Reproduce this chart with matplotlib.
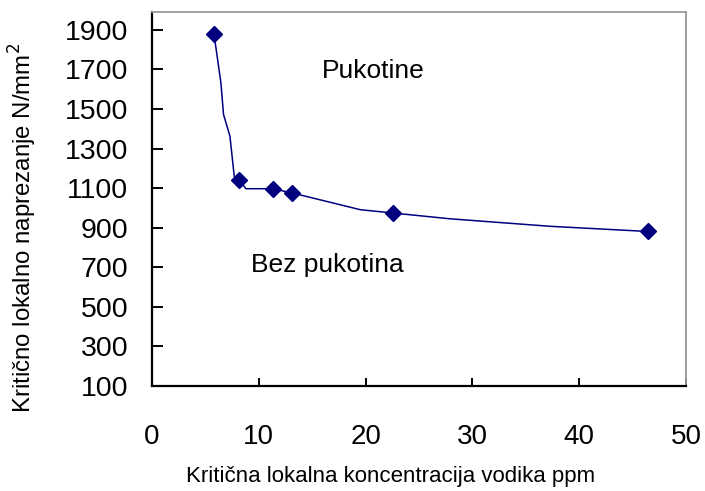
#!/usr/bin/env python3
"""Critical local stress vs. critical local hydrogen concentration."""

import matplotlib
matplotlib.use('Agg')
import matplotlib.pyplot as plt

# measured points (markers)
conc_ppm = [5.8, 8.1, 11.3, 13.1, 22.6, 46.4]
stress = [1880, 1143, 1097, 1076, 974, 881]

# hand-drawn boundary curve vertices
curve_x = [5.8, 6.45, 6.7, 7.3, 7.7, 8.1, 8.8, 11.3, 13.1, 19.5, 22.6, 27.9, 37.3, 46.4]
curve_y = [1880, 1633, 1472, 1362, 1160, 1143, 1097, 1097, 1076, 991, 974, 945, 907, 881]

x_ticks = [0, 10, 20, 30, 40, 50]
y_ticks = [100, 300, 500, 700, 900, 1100, 1300, 1500, 1700, 1900]

NAVY = '#00007f'

plt.rcParams['font.family'] = ['Liberation Sans', 'DejaVu Sans']

fig = plt.figure(figsize=(7.05, 4.91), dpi=100)
ax = fig.add_axes([0.2156, 0.2138, 0.7574, 0.7618])

ax.plot(curve_x, curve_y, color=NAVY, linewidth=1.1, zorder=2)
ax.plot(conc_ppm, stress, linestyle='none', marker='D', markersize=8.5,
        color=NAVY, zorder=3)

ax.set_xlim(0, 50)
ax.set_ylim(100, 1990)
ax.set_xticks(x_ticks)
ax.set_yticks(y_ticks)

ax.tick_params(axis='y', direction='in', length=8, width=1.4, pad=17, labelsize=20.5)
ax.tick_params(axis='x', direction='in', length=6, width=1.4, pad=27, labelsize=20)

for side in ('left', 'bottom'):
    ax.spines[side].set_linewidth(1.6)
    ax.spines[side].set_color('black')
for side in ('top', 'right'):
    ax.spines[side].set_linewidth(1.3)
    ax.spines[side].set_color('#999999')

ax.text(20.7, 1690, 'Pukotine', fontsize=19, ha='center', va='center')
ax.text(9.25, 713, 'Bez pukotina', fontsize=19, ha='left', va='center')

ax.set_xlabel('Kritična lokalna koncentracija vodika ppm', fontsize=16)
ax.xaxis.set_label_coords(0.4476, -0.214)
ax.xaxis.label.set_va('top')

ax.set_ylabel('Kritično lokalno naprezanje N/mm$^2$', fontsize=17.3)
ax.yaxis.set_label_coords(-0.2416, 0.4225)
ax.yaxis.label.set_va('center')

plt.savefig('out.png', dpi=100)
